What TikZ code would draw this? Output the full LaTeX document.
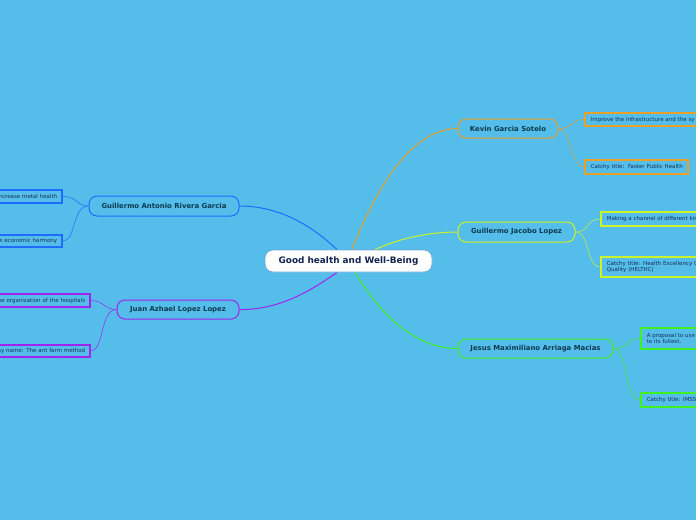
\documentclass[tikz,border=0pt]{standalone}
\usepackage{fontspec}
\setmainfont{DejaVu Sans}
\pgfdeclarelayer{back}
\pgfdeclarelayer{bg}
\pgfsetlayers{back,bg,main}
\definecolor{bgc}{RGB}{84,189,234}
\definecolor{cblue}{RGB}{30,108,255}
\definecolor{cpurple}{RGB}{160,36,240}
\definecolor{corange}{RGB}{232,160,40}
\definecolor{cyellow}{RGB}{204,242,40}
\definecolor{cgreen}{RGB}{64,240,32}
\definecolor{ttext}{RGB}{14,58,78}
\definecolor{ctext}{RGB}{20,36,80}
\definecolor{ltext}{RGB}{24,48,84}
\definecolor{cborder}{RGB}{120,170,215}
\tikzset{
  central/.style={draw=cborder, line width=0.8pt, fill=white, rounded corners=8pt,
    minimum width=167pt, minimum height=22pt, inner sep=0pt,
    font=\fontsize{8.9}{10}\selectfont\bfseries, text=ctext},
  topic/.style={draw=#1, line width=1pt, fill=bgc, rounded corners=8pt,
    inner sep=0pt, font=\fontsize{6.9}{8}\selectfont\bfseries, text=ttext},
  leaf/.style={draw=#1, line width=1.6pt, fill=bgc, inner sep=0pt,
    font=\fontsize{5.5}{6.6}\selectfont, text=ltext},
  mainline/.style={draw=#1, line width=1pt},
  leafline/.style={draw=#1, line width=0.5pt},
}
\begin{document}
\begin{tikzpicture}[x=1pt,y=-1pt]
\useasboundingbox (0,0) rectangle (696,520);
\begin{pgfonlayer}{back}
\fill[bgc] (0,0) rectangle (696,520);
\end{pgfonlayer}
\clip (0,0) rectangle (696,520);

% central
\node[central] (c) at (348.5,261) {Good health and Well-Being};

% topics
\node[topic=cblue, minimum width=150pt, minimum height=20pt] (ga) at (164,206) {Guillermo Antonio Rivera Garcia};
\node[topic=cpurple, minimum width=122pt, minimum height=19pt] (ja) at (178,309.5) {Juan Azhael Lopez Lopez};
\node[topic=corange, minimum width=100pt, minimum height=19pt] (kg) at (508,128.5) {Kevin Garcia Sotelo};
\node[topic=cyellow, minimum width=117pt, minimum height=20pt] (gj) at (516.5,232) {Guillermo Jacobo Lopez};
\node[topic=cgreen, minimum width=155pt, minimum height=19pt] (jm) at (535.5,348.5) {Jesus Maximiliano Arriaga Macias};

% leaves left
\node[leaf=cblue, anchor=east, minimum height=13pt, text width=110pt, align=right] (l1) at (63,196.5) {increase metal health\hspace*{5pt}};
\node[leaf=cblue, anchor=east, minimum height=12pt, text width=110pt, align=right] (l2) at (63,241) {w economic harmony\hspace*{5pt}};
\node[leaf=cpurple, anchor=east, minimum height=13pt, text width=150pt, align=right] (l3) at (91,300.5) {the organization of the hospitals\hspace*{5pt}};
\node[leaf=cpurple, anchor=east, minimum height=12pt, text width=150pt, align=right] (l4) at (91,351) {my name: The ant farm method\hspace*{5pt}};

% leaves right
\node[leaf=corange, anchor=west, minimum height=13pt, text width=150pt, align=left] (k1) at (584,119.5) {\hspace*{6pt}Improve the infrastructure and the sy};
\node[leaf=corange, anchor=west, minimum height=14pt, text width=103pt, align=left] (k2) at (584,167) {\hspace*{6pt}Catchy title:\ \ Faster Public Health};
\node[leaf=cyellow, anchor=west, minimum height=14pt, text width=150pt, align=left] (j1) at (600,219) {\hspace*{6pt}Making a channel of different kin};
\node[leaf=cyellow, anchor=west, minimum height=20pt, text width=150pt, align=left] (j2) at (600,267) {\hspace*{6pt}Catchy title: Health Excellency C\\\hspace*{6pt}Quality (HELTHC)};
\node[leaf=cgreen, anchor=west, minimum height=21pt, text width=150pt, align=left] (m1) at (640,338.5) {\hspace*{6pt}A proposal to use\\\hspace*{6pt}to its fullest.};
\node[leaf=cgreen, anchor=west, minimum height=14pt, text width=150pt, align=left] (m2) at (640,400) {\hspace*{6pt}Catchy title: IMSS};

\begin{pgfonlayer}{bg}
% main connectors
\draw[mainline=cblue] ([xshift=-11.5pt]c.north) .. controls (310,224) and (278,206) .. (ga.east);
\draw[mainline=cpurple] ([xshift=-11.5pt]c.south) .. controls (305,295) and (275,310) .. (ja.east);
\draw[mainline=corange] ([xshift=3.5pt]c.north) .. controls (372,198) and (408,128.5) .. (kg.west);
\draw[mainline=cyellow] ([xshift=26.5pt]c.north) .. controls (400,238) and (430,232) .. (gj.west);
\draw[mainline=cgreen] ([xshift=6.5pt]c.south) .. controls (385,322) and (420,348.5) .. (jm.west);
% leaf connectors
\draw[leafline=cblue] (ga.west) .. controls (76,206) and (78,196.5) .. (l1.east);
\draw[leafline=cblue] (ga.west) .. controls (72,206) and (76,241) .. (l2.east);
\draw[leafline=cpurple] (ja.west) .. controls (104,309.5) and (104,300.5) .. (l3.east);
\draw[leafline=cpurple] (ja.west) .. controls (100,309.5) and (104,351) .. (l4.east);
\draw[leafline=corange] (kg.east) .. controls (574,128.5) and (570,119.5) .. (k1.west);
\draw[leafline=corange] (kg.east) .. controls (572,128.5) and (570,167) .. (k2.west);
\draw[leafline=cyellow] (gj.east) .. controls (590,232) and (586,219) .. (j1.west);
\draw[leafline=cyellow] (gj.east) .. controls (590,232) and (586,267) .. (j2.west);
\draw[leafline=cgreen] (jm.east) .. controls (630,348.5) and (625,338.5) .. (m1.west);
\draw[leafline=cgreen] (jm.east) .. controls (628,348.5) and (624,400) .. (m2.west);
\end{pgfonlayer}
\end{tikzpicture}
\end{document}
